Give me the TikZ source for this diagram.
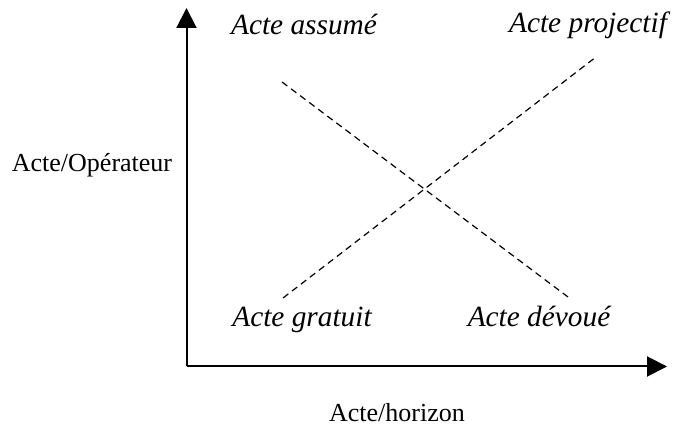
\documentclass[tikz,border=0pt]{standalone}
\usepackage{fontspec}
\setmainfont{Liberation Serif}
\usetikzlibrary{arrows.meta}
\begin{document}
\begin{tikzpicture}[x=0.75pt,y=-0.75pt,
  lbl/.style={font=\fontsize{19.5}{23}\selectfont, inner sep=0pt, anchor=base},
  ital/.style={lbl, font=\fontsize{22}{26}\selectfont\itshape},
  axis/.style={line width=1.5pt, -{Triangle[length=15pt,width=15pt]}},
  diag/.style={line width=0.9pt, dash pattern=on 5pt off 3.5pt}]
\useasboundingbox (0,0) rectangle (676,427);
\coordinate (O) at (186.5,366.5);
\coordinate (Ytop) at (186.5,8);
\coordinate (Xend) at (667,366.5);
\draw[axis] (O) -- (Ytop);
\draw[axis] (O) -- (Xend);
\coordinate (a1) at (282,82);
\coordinate (a2) at (568,297);
\coordinate (b1) at (283,298);
\coordinate (b2) at (596,57);
\draw[diag] (a1) -- (a2);
\draw[diag] (b1) -- (b2);
\node[ital] (assume) at (304,35) {Acte assumé};
\node[ital] (proj) at (588,33) {Acte projectif};
\node[lbl] (oper) at (92,172) {Acte/Opérateur};
\node[ital] (grat) at (302,327) {Acte gratuit};
\node[ital] (devoue) at (539,327) {Acte dévoué};
\node[lbl] (hor) at (397,422) {Acte/horizon};
\end{tikzpicture}
\end{document}
